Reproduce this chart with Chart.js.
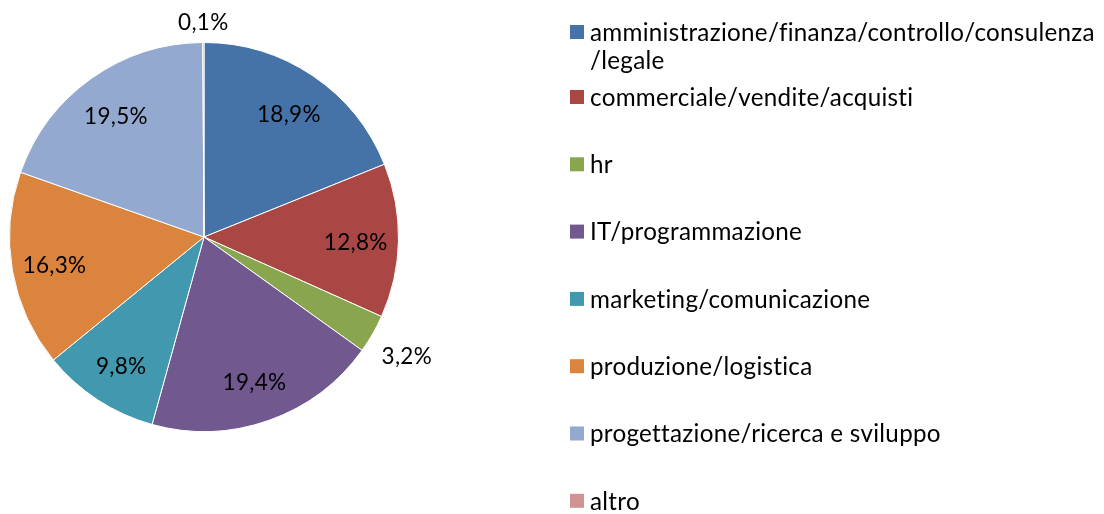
<!DOCTYPE html>
<html>
<head>
<meta charset="utf-8">
<script src="https://cdn.jsdelivr.net/npm/chart.js@4"></script>
<style>
html,body{margin:0;padding:0;background:#fff;}
#wrap{position:relative;width:1104px;height:514px;}
</style>
</head>
<body>
<div id="wrap"><canvas id="c" width="1104" height="514"></canvas></div>
<script>
const categories = [
  "amministrazione/finanza/controllo/consulenza /legale",
  "commerciale/vendite/acquisti",
  "hr",
  "IT/programmazione",
  "marketing/comunicazione",
  "produzione/logistica",
  "progettazione/ricerca e sviluppo",
  "altro"
];
const legendLines = [
  ["amministrazione/finanza/controllo/consulenza", "/legale"],
  ["commerciale/vendite/acquisti"],
  ["hr"],
  ["IT/programmazione"],
  ["marketing/comunicazione"],
  ["produzione/logistica"],
  ["progettazione/ricerca e sviluppo"],
  ["altro"]
];
const values = [18.9, 12.8, 3.2, 19.4, 9.8, 16.3, 19.5, 0.1];
const colors = ["#4572A7", "#AA4643", "#89A54E", "#71588F", "#4198AF", "#DB843D", "#93A9CF", "#D19392"];

const FONT = 'Lato, "Open Sans", sans-serif';
const fmt = v => v.toFixed(1).replace('.', ',') + '%';

function fitSize(ctx, text, target) {
  ctx.letterSpacing = '0.3px';
  ctx.font = '20px ' + FONT;
  return 20 * target / ctx.measureText(text).width;
}

const labelPlugin = {
  id: 'pieLabels',
  afterDatasetsDraw(chart) {
    const ctx = chart.ctx;
    const meta = chart.getDatasetMeta(0);
    ctx.save();
    const fs = fitSize(ctx, '18,9%', 64);
    ctx.font = fs.toFixed(1) + 'px ' + FONT;
    ctx.fillStyle = '#000';
    ctx.textAlign = 'center';
    ctx.textBaseline = 'middle';
    meta.data.forEach((arc, i) => {
      const p = arc.getProps(['x','y','startAngle','endAngle','outerRadius'], true);
      const mid = (p.startAngle + p.endAngle) / 2;
      const txt = fmt(values[i]);
      const w = ctx.measureText(txt).width;
      const h = 22;
      let d;
      if (values[i] < 5) {
        const ext = w/2*Math.abs(Math.cos(mid)) + h/2*Math.abs(Math.sin(mid));
        d = p.outerRadius + 12 + ext;
      } else {
        d = p.outerRadius * 0.78;
      }
      ctx.fillText(txt, p.x + Math.cos(mid)*d, p.y + Math.sin(mid)*d + 3);
    });
    ctx.restore();
  }
};

const legendPlugin = {
  id: 'sideLegend',
  afterDraw(chart) {
    const ctx = chart.ctx;
    ctx.save();
    const fs = fitSize(ctx, legendLines[0][0], 507);
    ctx.font = fs.toFixed(1) + 'px ' + FONT;
    ctx.textBaseline = 'middle';
    ctx.textAlign = 'left';
    const sq = 14, sx = 570, tx = 590, lh = 28;
    legendLines.forEach((lines, i) => {
      const y = i === 0 ? 32 : 97 + (i - 1) * 67.3;
      ctx.fillStyle = colors[i];
      ctx.fillRect(sx, y - sq/2, sq, sq);
      ctx.fillStyle = '#000';
      lines.forEach((ln, k) => ctx.fillText(ln, tx, y + k*lh + 1));
    });
    ctx.restore();
  }
};

new Chart(document.getElementById('c'), {
  type: 'pie',
  data: {
    labels: categories,
    datasets: [{
      data: values,
      backgroundColor: colors,
      borderColor: '#ffffff',
      borderWidth: 1
    }]
  },
  options: {
    responsive: false,
    animation: false,
    layout: { padding: { left: 9, right: 705, top: 42, bottom: 82 } },
    plugins: { legend: { display: false }, tooltip: { enabled: false } }
  },
  plugins: [labelPlugin, legendPlugin]
});
</script>
</body>
</html>
